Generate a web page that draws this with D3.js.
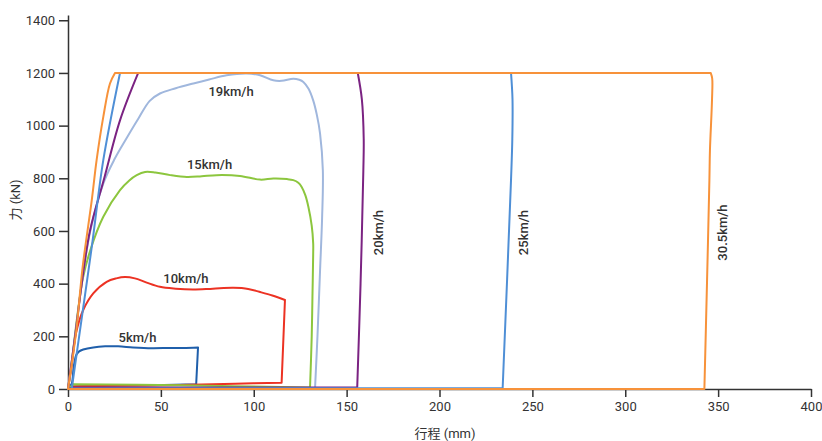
<!DOCTYPE html>
<html>
<head>
<meta charset="utf-8">
<script src="https://cdn.jsdelivr.net/npm/d3@7"></script>
<style>
html,body{margin:0;padding:0;background:#fff;}
svg{display:block;font-family:Roboto,"Noto Sans CJK SC",sans-serif;}
</style>
</head>
<body>
<svg id="chart" width="822" height="441"></svg>
<script>
// Data (stroke in mm, force in kN) — closed loops
const curve5 = [[0,0],[2,20],[3,80],[4.5,130],[6,143],[8.2,150],[13.6,158],[20,162],[27,162],[35,158],[45,155],[55,156],[62,156],[70,158],[69,18],[40,14],[10,11],[3,9],[0,0]];
const curve10 = [[0,0],[2,90],[4.3,212],[8.2,300],[13.6,363],[20.8,407],[26,420],[30.7,425],[36,420],[42,405],[49.5,388],[58,381],[67.3,378],[78,381],[89,384],[97,380],[103,369],[110,355],[116.8,338],[115,24],[90,20],[60,15],[20,12],[3,10],[0,0]];
const curve15 = [[0,0],[2,100],[4,220],[6,330],[8,420],[12,527],[19,654],[28,755],[33,792],[37,812],[41.5,824],[47,822],[55,812],[64,805],[72,808],[80,812],[92.6,809],[103.4,795],[110.5,799],[118,797],[121.3,793],[124,783],[125.8,767],[127.8,735],[129.4,692],[131.2,620],[132,553],[132,515],[131.6,350],[131.2,198],[130.3,6],[60,14],[3,18],[0,0]];
const curve19 = [[0,0],[3.8,200],[7.4,400],[12,600],[19,780],[25,872],[31.6,953],[38,1028],[44,1094],[49.5,1122],[58,1142],[67.5,1160],[76,1175],[85.4,1191],[96.2,1198],[103.4,1191],[110.5,1172],[115,1170],[121.3,1178],[124.5,1174],[126.7,1166],[129.5,1140],[132,1096],[134,1040],[135.7,970],[137.2,830],[136.8,650],[135.7,451],[134.3,200],[133,4],[60,4],[2,4],[0,0]];
const curve20 = [[0,0],[3.8,200],[7.4,400],[11.8,600],[19.5,800],[28,1020],[37.8,1200],[156,1200],[158.2,1100],[159.2,950],[159,830],[157.5,400],[155.7,6],[3,6],[0,0]];
const curve25 = [[0,0],[2,0],[6,200],[13,550],[19,869],[28,1200],[238.5,1200],[239.3,1100],[239.2,950],[238.5,793],[234,3],[2,2],[0,0]];
const curve30 = [[0,0],[4.3,212],[7.9,464],[12.8,717],[15.4,869],[19,1033],[22.6,1160],[25.3,1200],[346,1200],[346.8,1179],[346.7,1096],[345.6,907],[345.3,793],[344,400],[342.6,0],[0,0]];

// indices of sharp corners in each loop (smooth between them)
const corners5 = [0,13,14,17,18];
const corners10 = [0,18,19,23,24];
const corners15 = [0,30,32,33];
const corners19 = [0,29,31,32];
const corners20 = [0,6,7,12,13,14];
const corners25 = [0,1,5,6,10,11,12];
const corners30 = [0,7,8,14,15];

const seriesNames = ["5km/h","10km/h","15km/h","19km/h","20km/h","25km/h","30.5km/h"];
const seriesColors = ["#1f5fab","#ec3223","#8cc63e","#a0b7dd","#7b2382","#4f8fd6","#f7923a"];
const seriesData = [curve5, curve10, curve15, curve19, curve20, curve25, curve30];
const seriesCorners = [corners5, corners10, corners15, corners19, corners20, corners25, corners30];

// label anchors in data units [x, force, rotated]
const labelPos = [[37.4,179,false],[63.5,403,false],[76.2,834,false],[87.8,1113,false],[169.6,594,true],[247.6,594,true],[354.8,594,true]];

const xTicks = [0,50,100,150,200,250,300,350,400];
const yTicks = [0,200,400,600,800,1000,1200,1400];
const xTitle = "行程 (mm)";
const yTitle = "力 (kN)";

const svg = d3.select("#chart");
const x = d3.scaleLinear().domain([0,400]).range([68,811]);
const y = d3.scaleLinear().domain([0,1420]).range([389,15]);

const textColor = "#333";

// axes
const gx = svg.append("g").attr("transform","translate(0,389)")
  .call(d3.axisBottom(x).tickValues(xTicks).tickFormat(d3.format("d")).tickSize(8).tickPadding(5).tickSizeOuter(0));
const gy = svg.append("g").attr("transform","translate(68,0)")
  .call(d3.axisLeft(y).tickValues(yTicks).tickFormat(d3.format("d")).tickSize(9).tickPadding(4).tickSizeOuter(0));
[gx,gy].forEach(g=>{
  g.select(".domain").attr("stroke","#333").attr("stroke-width",1.5);
  g.selectAll(".tick line").attr("stroke","#333").attr("stroke-width",1.5);
  g.selectAll(".tick text").attr("fill",textColor).attr("font-size",13).attr("font-family","Roboto, sans-serif");
});

svg.append("text").attr("x",445).attr("y",438).attr("text-anchor","middle")
  .attr("font-size",13).attr("fill",textColor).text(xTitle);
svg.append("text").attr("transform","translate(20,200) rotate(-90)").attr("text-anchor","middle")
  .attr("font-size",13).attr("fill",textColor).text(yTitle);

// curves: smooth pieces between sharp corners
const line = d3.line().x(d=>x(d[0])).y(d=>y(d[1])).curve(d3.curveCatmullRom.alpha(0.5));
const lines = svg.append("g");
seriesData.forEach((d,i)=>{
  const c = seriesCorners[i];
  let path = "";
  for(let k=0;k<c.length-1;k++){
    path += line(d.slice(c[k], c[k+1]+1));
  }
  lines.append("path").attr("d",path)
    .attr("fill","none").attr("stroke",seriesColors[i]).attr("stroke-width",2)
    .attr("stroke-linejoin","round").attr("stroke-linecap","round");
});

// labels
labelPos.forEach((p,i)=>{
  const t = svg.append("text").attr("text-anchor","middle").attr("font-size",13)
    .attr("font-weight",500).attr("fill",textColor).text(seriesNames[i]);
  if(p[2]) t.attr("transform",`translate(${x(p[0])},${y(p[1])}) rotate(-90)`);
  else t.attr("x",x(p[0])).attr("y",y(p[1]));
});
</script>
</body>
</html>
